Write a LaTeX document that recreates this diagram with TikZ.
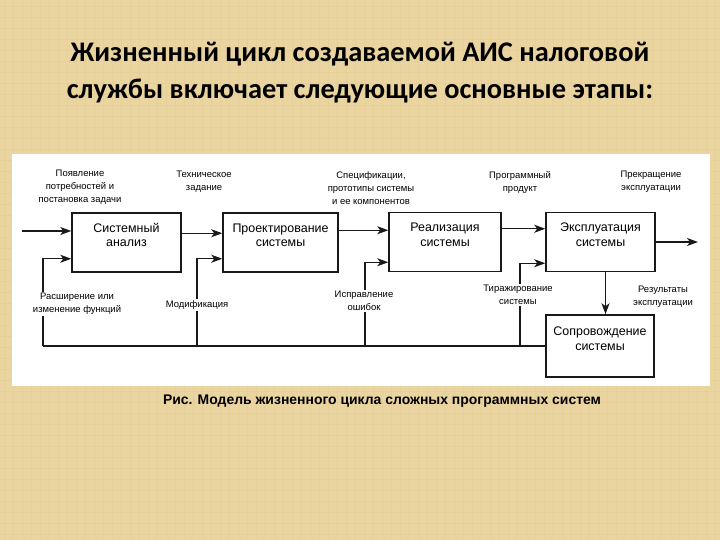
\documentclass[tikz,border=0pt]{standalone}
\usepackage{fontspec}
\setmainfont{Liberation Sans}
\newfontfamily\titlefont{Carlito}
\usetikzlibrary{arrows.meta}
\definecolor{burlap}{RGB}{234,212,160}
\definecolor{weave}{RGB}{222,196,140}
\definecolor{ink}{RGB}{25,25,25}

\begin{document}
\begin{tikzpicture}[x=1bp,y=-1bp,>={Stealth[length=11bp,width=8bp,inset=3bp]},
  stage/.style={draw=ink,line width=1.5bp,minimum height=59bp,align=center,
    inner sep=0pt,text depth=15bp,font=\fontsize{12.5}{14.5}\selectfont},
  note/.style={align=center,inner sep=1.5bp,font=\fontsize{9.5}{13}\selectfont},
  flow/.style={draw=ink,line width=1.2bp}]
  \useasboundingbox (0,0) rectangle (720,540);
  \fill[burlap] (0,0) rectangle (720,540);
  % weave texture
  \foreach \x in {4,13,...,720}
    \draw[weave,line width=0.8bp,opacity=0.3] (\x,0) -- (\x,540);
  \foreach \y in {6,17,...,540}
    \draw[weave,line width=0.8bp,opacity=0.25] (0,\y) -- (720,\y);
  \fill[white] (12,154) rectangle (710,386);
  % heading
  \node[align=center,font=\titlefont\bfseries\fontsize{28.5}{37}\selectfont] (title) at (360,73)
    {Жизненный цикл создаваемой АИС налоговой\\службы включает следующие основные этапы:};
  % stages
  \node[stage,minimum width=109bp] (sa) at (126.5,242.5) {Системный\\анализ};
  \node[stage,minimum width=115bp] (pr) at (280.5,242.5) {Проектирование\\системы};
  \node[stage,minimum width=112bp] (re) at (445,242) {Реализация\\системы};
  \node[stage,minimum width=109bp] (ex) at (600.5,242) {Эксплуатация\\системы};
  \node[stage,minimum width=108bp,minimum height=62bp] (so) at (600,346) {Сопровождение\\системы};
  % free ends
  \coordinate (in) at (22,231);
  \coordinate (out) at (698,240);
  \coordinate (fb1) at (so.west -| 43,0);
  \coordinate (fb2) at (so.west -| 197,0);
  \coordinate (fb3) at (so.west -| 365,0);
  \coordinate (fb4) at (so.west -| 520,0);
  % forward flow
  \draw[flow,->] (in) -- (in -| sa.west);
  \draw[flow,->] ([yshift=-21bp]sa.north east) -- ([yshift=-21bp]sa.north east -| pr.west);
  \draw[flow,->] ([yshift=-18bp]pr.north east) -- ([yshift=-18bp]pr.north east -| re.west);
  \draw[flow,->] ([yshift=-17bp]re.north east) -- ([yshift=-17bp]re.north east -| ex.west);
  \draw[flow,->] (ex.east) -- (ex.east -| out);
  \draw[flow,->] ([xshift=5bp]ex.south) -- ([xshift=5bp]ex.south |- so.north);
  % feedback
  \draw[flow] (so.west) -- (fb1);
  \draw[flow,->] (fb1) |- ([yshift=14bp]sa.south west);
  \draw[flow,->] (fb2) |- ([yshift=14bp]pr.south west);
  \draw[flow,->] (fb3) |- ([yshift=10bp]re.south west);
  \draw[flow,->] (fb4) |- ([yshift=9bp]ex.south west);
  % labels
  \node[note] (l1) at (80,187) {Появление\\потребностей и\\постановка задачи};
  \node[note] (l2) at (204,182) {Техническое\\задание};
  \node[note] (l3) at (371,188) {Спецификации,\\прототипы системы\\и ее компонентов};
  \node[note] (l4) at (520,182) {Программный\\продукт};
  \node[note] (l5) at (651,182) {Прекращение\\эксплуатации};
  \node[note,fill=white] (l6) at (77,304) {Расширение или\\изменение функций};
  \node[note,fill=white] (l7) at (197,305) {Модификация};
  \node[note,fill=white] (l8) at (364,301) {Исправление\\ошибок};
  \node[note,fill=white] (l9) at (518,295) {Тиражирование\\системы};
  \node[note] (l10) at (663,297) {Результаты\\эксплуатации};
  % caption
  \node[font=\bfseries\fontsize{14}{16}\selectfont] (cap) at (382,401)
    {Рис. Модель жизненного цикла сложных программных систем};
\end{tikzpicture}
\end{document}
